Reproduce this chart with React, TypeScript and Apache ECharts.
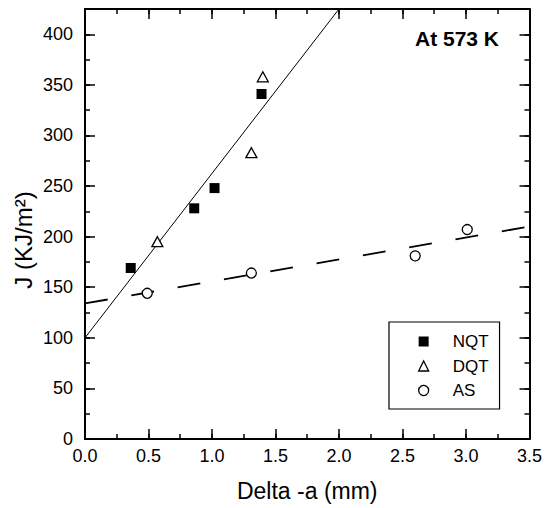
import React, { useEffect, useRef } from "react";
import * as echarts from "echarts";

const FONT = "'Liberation Sans', Arial, Helvetica, sans-serif";

// Data
const nqtX = [0.36, 0.86, 1.02, 1.39];
const nqtY = [169, 228, 248, 341];
const dqtX = [0.57, 1.31, 1.4];
const dqtY = [195, 283, 358];
const asX = [0.49, 1.31, 2.6, 3.01];
const asY = [144, 164, 181, 207];

// Fit lines (endpoints)
const nqtFitX = [0, 2.0];
const nqtFitY = [100, 425];
const asFitX = [0, 3.5];
const asFitY = [134, 210];

const legendNames = ["NQT", "DQT", "AS"];
const xTitle = "Delta -a (mm)";
const yTitle = "J (KJ/m²)";
const annotation = "At 573 K";

const zip = (xs: number[], ys: number[]) => xs.map((x, i) => [x, ys[i]]);

export default function App() {
  const ref = useRef<HTMLDivElement>(null);
  useEffect(() => {
    if (!ref.current) return;
    const chart = echarts.init(ref.current, null, { renderer: "svg" });
    const black = "#000";
    const xBase = (position: "top" | "bottom", major: boolean, labels: boolean) => ({
      type: "value",
      position,
      min: 0,
      max: 3.5,
      interval: major ? 0.5 : 0.25,
      axisLine: { show: major, onZero: false, lineStyle: { color: black, width: 2 } },
      axisTick: { show: true, inside: true, length: major ? 10 : 5, lineStyle: { color: black, width: 1.5 } },
      axisLabel: labels
        ? { show: true, color: black, fontSize: 18, fontFamily: FONT, margin: 8, formatter: (v: number) => v.toFixed(1) }
        : { show: false },
      splitLine: { show: false },
    });
    const yBase = (position: "left" | "right", major: boolean, labels: boolean) => ({
      type: "value",
      position,
      min: 0,
      max: 425,
      interval: major ? 50 : 25,
      axisLine: { show: major, onZero: false, lineStyle: { color: black, width: 2 } },
      axisTick: { show: true, inside: true, length: major ? 10 : 5, lineStyle: { color: black, width: 1.5 } },
      axisLabel: labels
        ? { show: true, color: black, fontSize: 18, fontFamily: FONT, margin: 12, showMaxLabel: false }
        : { show: false },
      splitLine: { show: false },
    });

    const xMain: any = xBase("bottom", true, true);
    xMain.name = xTitle;
    xMain.nameLocation = "middle";
    xMain.nameGap = 40;
    xMain.nameTextStyle = { fontSize: 23, color: black, fontFamily: FONT };

    chart.setOption({
      animation: false,
      backgroundColor: "#fff",
      textStyle: { fontFamily: FONT },
      grid: { left: 85, right: 14, top: 9, bottom: 69, containLabel: false },
      xAxis: [xMain, xBase("bottom", false, false), xBase("top", true, false), xBase("top", false, false)],
      yAxis: [yBase("left", true, true), yBase("left", false, false), yBase("right", true, false), yBase("right", false, false)],
      legend: {
        left: 389,
        top: 322,
        orient: "vertical",
        itemWidth: 10,
        itemHeight: 10,
        itemGap: 7.5,
        padding: [11, 11, 10, 29],
        borderColor: black,
        borderWidth: 1.2,
        borderRadius: 0,
        backgroundColor: "#fff",
        selectedMode: false,
        textStyle: { fontSize: 17, color: black, fontFamily: FONT, lineHeight: 17, padding: [0, 0, 0, 19] },
        data: [
          { name: legendNames[0], icon: "rect", itemStyle: { color: black, borderWidth: 0 } },
          { name: legendNames[1], icon: "triangle", itemStyle: { color: "#fff", borderColor: black, borderWidth: 1.3 } },
          { name: legendNames[2], icon: "circle", itemStyle: { color: "#fff", borderColor: black, borderWidth: 1.3 } },
        ],
      },
      graphic: [
        {
          type: "text",
          right: 46,
          top: 28,
          style: { text: annotation, font: `bold 21px ${FONT}`, fill: black, align: "right" },
        },
        {
          type: "text",
          x: 23,
          y: 240,
          rotation: Math.PI / 2,
          style: { text: yTitle, font: `24px ${FONT}`, fill: black, align: "center", verticalAlign: "middle" },
        },
      ],
      series: [
        {
          name: "NQT fit",
          type: "line",
          data: zip(nqtFitX, nqtFitY),
          symbol: "none",
          clip: true,
          lineStyle: { color: black, width: 1 },
          silent: true,
          z: 1,
        },
        {
          name: "AS fit",
          type: "line",
          data: zip(asFitX, asFitY),
          symbol: "none",
          clip: true,
          lineStyle: { color: black, width: 1.8, type: [23, 24] },
          silent: true,
          z: 1,
        },
        {
          name: legendNames[0],
          type: "scatter",
          data: zip(nqtX, nqtY),
          symbol: "rect",
          symbolSize: 10,
          itemStyle: { color: black, borderWidth: 0, opacity: 1 },
          z: 3,
        },
        {
          name: legendNames[1],
          type: "scatter",
          data: zip(dqtX, dqtY),
          symbol: "triangle",
          symbolSize: [11, 10],
          itemStyle: { color: "#fff", borderColor: black, borderWidth: 1.3, opacity: 1 },
          z: 3,
        },
        {
          name: legendNames[2],
          type: "scatter",
          data: zip(asX, asY),
          symbol: "circle",
          symbolSize: 10,
          itemStyle: { color: "#fff", borderColor: black, borderWidth: 1.3, opacity: 1 },
          z: 3,
        },
      ],
    });
    return () => chart.dispose();
  }, []);
  return (
    <div
      ref={ref}
      style={{ position: "fixed", left: 0, top: 0, width: 545, height: 508, background: "#fff" }}
    />
  );
}
